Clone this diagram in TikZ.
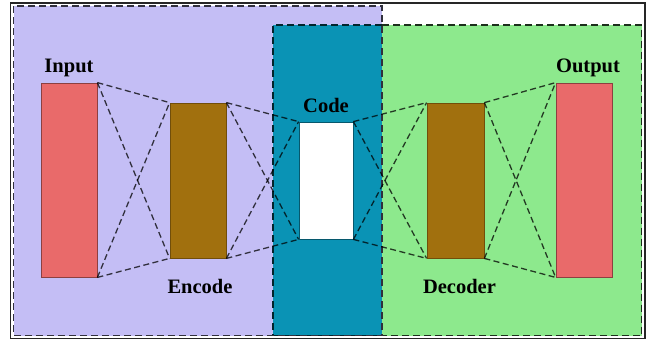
\documentclass[tikz,border=0pt]{standalone}
\usepackage{fontspec}
\setmainfont{Liberation Serif}
\usetikzlibrary{positioning}
\definecolor{encbg}{HTML}{C4BEF5}
\definecolor{codebg}{HTML}{0A93B5}
\definecolor{decbg}{HTML}{8DE98D}
\definecolor{iored}{HTML}{E96A6A}
\definecolor{hidbrown}{HTML}{A1700E}
\tikzset{x=1pt, y=-1pt,
layer/.style={draw, line width=0.8pt, inner sep=0pt}, % one column of units
conn/.style={draw=black, opacity=0.75, dashed, dash pattern=on 6pt off 3.5pt, line width=1.3pt}, % links between columns
region/.style={dashed, dash pattern=on 7pt off 4pt, line width=1.9pt}, % shaded parts of the net
lbl/.style={font=\bfseries\fontsize{20.5}{24}\selectfont, inner sep=0pt},
}

\begin{document}
\begin{tikzpicture}
\useasboundingbox (0,0) rectangle (647,341);
% shaded parts
\fill[encbg] (13.5,6) rectangle (382,335.5);
\fill[decbg] (382,25) rectangle (641.5,335.5);
\fill[codebg] (273,25) rectangle (382,335.5);
\draw[region, draw=decbg!20!black] (382,25) -- (641.5,25) -- (641.5,335.5) -- (382,335.5);
\draw[region, draw=codebg!25!black] (382,25) -- (273,25) -- (273,335.5) -- (382,335.5);
\draw[region, draw=encbg!25!black] (13.5,6) rectangle (382,335.5);
\draw[line width=1.4pt, black!85] (10.5,3) rectangle (645,338.5);

% columns
\node[layer, fill=iored, draw=iored!60!black, minimum width=56pt, minimum height=194pt] (in) at (69,180) {};
\node[layer, fill=hidbrown, draw=hidbrown!70!black, minimum width=56pt, minimum height=155pt] (enc) at (198,180.5) {};
\node[layer, fill=white, draw=codebg!60!black, minimum width=54pt, minimum height=117pt] (code) at (326,180.5) {};
\node[layer, fill=hidbrown, draw=hidbrown!70!black, minimum width=57pt, minimum height=155pt] (dec) at (455.5,180.5) {};
\node[layer, fill=iored, draw=iored!60!black, minimum width=56pt, minimum height=194pt] (out) at (584,180) {};

% dashed links, every corner to every corner
\foreach \a/\b in {in/enc, enc/code, code/dec, dec/out} {
  \foreach \p in {north east, south east}
    \foreach \q in {north west, south west}
      \draw[conn] (\a.\p) -- (\b.\q);
}

% labels
\node[lbl, above=6pt of in] (inlbl) {Input};
\node[lbl, above=9pt of code] (codelbl) {Code};
\node[lbl, below=21pt of enc, xshift=2pt] (enclbl) {Encode};
\node[lbl, below=21pt of dec, xshift=4pt] (declbl) {Decoder};
\node[lbl, above=6pt of out, xshift=4pt] (outlbl) {Output};
\end{tikzpicture}
\end{document}
